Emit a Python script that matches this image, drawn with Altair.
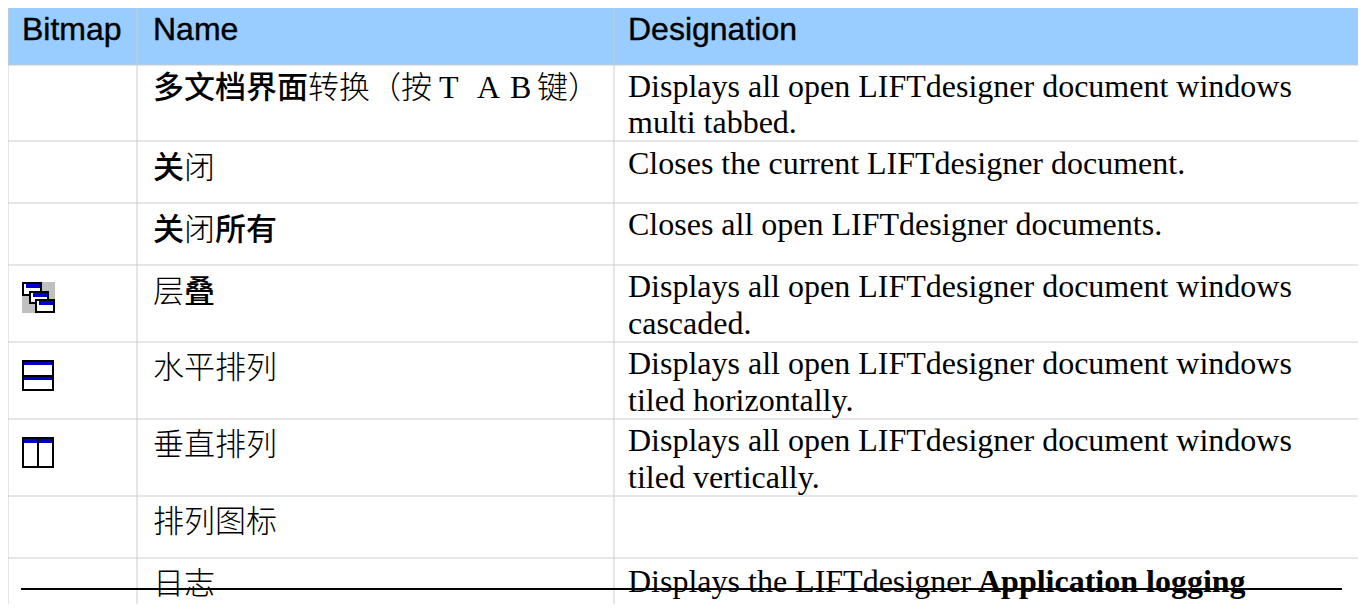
import altair as alt
import pandas as pd

# table content
headers = ["Bitmap", "Name", "Designation"]
name_runs = [
    ["多文档界面", "转换（按", "T", "A", "B", "键）"],
    ["关", "闭"],
    ["关", "闭", "所有"],
    ["层", "叠"],
    ["水平排列"],
    ["垂直排列"],
    ["排列图标"],
    ["日志"],
]
name_styles = [
    ["cjkb", "cjk", "ser", "ser", "ser", "cjk"],
    ["cjkb", "cjk"],
    ["cjkb", "cjk", "cjkb"],
    ["cjk", "cjkb"],
    ["cjk"], ["cjk"], ["cjk"], ["cjk"],
]
name_x = [
    [153, 308, 439, 477, 510, 537],
    [153, 184],
    [153, 184, 215],
    [153, 184],
    [153], [153], [153], [153],
]
desc_lines = [
    ["Displays all open LIFTdesigner document windows", "multi tabbed."],
    ["Closes the current LIFTdesigner document."],
    ["Closes all open LIFTdesigner documents."],
    ["Displays all open LIFTdesigner document windows", "cascaded."],
    ["Displays all open LIFTdesigner document windows", "tiled horizontally."],
    ["Displays all open LIFTdesigner document windows", "tiled vertically."],
    [],
    [],
]

# layout of the table, in page pixels
row_lines = [65, 141, 203, 265, 342, 419, 496, 558]
col_lines = [8, 137, 614]
row_base = [98, 178, 240, 302, 378, 455, 532, 594]
desc_base = [[97, 133], [174], [235], [297, 334], [374, 411], [451, 488], [], []]

rects = []
def rect(x0, x1, y0, y1, color):
    rects.append(dict(x=x0, x2=x1, y=y0, y2=y1, c=color))

def window(x0, x1, y0, y1):
    rect(x0, x1, y0, y1, "#000000")
    rect(x0 + 2, x1 - 2, y0 + 2, y1 - 2, "#ffffff")
    rect(x0 + 4, x1 - 2, y0 + 2, y0 + 6, "#0000c8")

rect(8, 1358, 8, 65, "#99ccff")
rect(22, 55, 282, 313, "#c0c0c0")
window(22, 42, 282, 296)
window(29, 49, 291, 304)
window(35, 55, 299, 313)
rect(22, 54, 360, 391, "#000000")
rect(24, 52, 362, 389, "#ffffff")
rect(24, 52, 362, 365, "#0000c8")
rect(24, 52, 375, 377, "#000000")
rect(24, 52, 377, 380, "#0000c8")
rect(22, 54, 437, 468, "#000000")
rect(24, 52, 439, 466, "#ffffff")
rect(24, 52, 439, 443, "#0000c8")
rect(37, 39, 439, 466, "#000000")

hl = pd.DataFrame({"y": row_lines})
vl = pd.DataFrame({"x": col_lines[1:] + col_lines[:1]})
texts = []
for t, x in zip(headers, [22, 153, 628]):
    texts.append(dict(x=x, y=40, t=t, s="hdr"))
for i, runs in enumerate(name_runs):
    for t, st, x in zip(runs, name_styles[i], name_x[i]):
        texts.append(dict(x=x, y=row_base[i], t=t, s=st))
for lines, bases in zip(desc_lines, desc_base):
    for t, b in zip(lines, bases):
        texts.append(dict(x=628, y=b, t=t, s="ser"))
texts.append(dict(x=628, y=592, t="Displays the LIFTdesigner ", s="ser"))
texts.append(dict(x=978, y=592, t="Application logging", s="serb"))
T = pd.DataFrame(texts)

X = alt.Scale(domain=[8, 1358], range=[0, 1350], nice=False, zero=False)
Y = alt.Scale(domain=[8, 604], range=[0, 596], nice=False, zero=False)
x = alt.X("x:Q", scale=X, axis=None)
y = alt.Y("y:Q", scale=Y, axis=None)

bg = alt.Chart(pd.DataFrame(rects)).mark_rect(strokeWidth=0).encode(
    x=x, x2="x2:Q", y=y, y2="y2:Q",
    color=alt.Color("c:N", scale=None), order=alt.Order("i:Q"),
).transform_window(i="row_number()")
hrule = alt.Chart(hl).mark_rule(color="#cccccc", strokeWidth=1).encode(
    y=y, x=alt.value(0), x2=alt.value(1350))
vrule = alt.Chart(vl).mark_rule(color="#cccccc", strokeWidth=1).encode(
    x=x, y=alt.value(0), y2=alt.value(596))

styles = {
    "hdr": dict(font="Liberation Sans", fontSize=32, stroke="#000000", strokeWidth=0.4),
    "cjk": dict(font="Noto Sans CJK SC", fontSize=31, fontWeight=300),
    "cjkb": dict(font="Noto Sans CJK SC", fontSize=31, fontWeight=500),
    "ser": dict(font="Liberation Serif", fontSize=32),
    "serb": dict(font="Liberation Serif", fontSize=32, fontWeight="bold"),
}
layers = [bg, hrule, vrule]
for s, kw in styles.items():
    layers.append(
        alt.Chart(T[T.s == s]).mark_text(align="left", baseline="alphabetic", color="#000000", **kw)
        .encode(x=x, y=y, text="t:N")
    )
strike = alt.Chart(pd.DataFrame({"x": [21], "x2": [1342], "y": [589]})).mark_rule(
    color="#000000", strokeWidth=2).encode(x=x, x2="x2:Q", y=y)
layers.append(strike)

chart = alt.layer(*layers).properties(
    width=1350, height=596, padding=0,
    autosize=alt.AutoSizeParams(type="none"),
).configure_view(stroke=None)
chart.save("out.html", embed_options={"renderer": "svg", "actions": False})
